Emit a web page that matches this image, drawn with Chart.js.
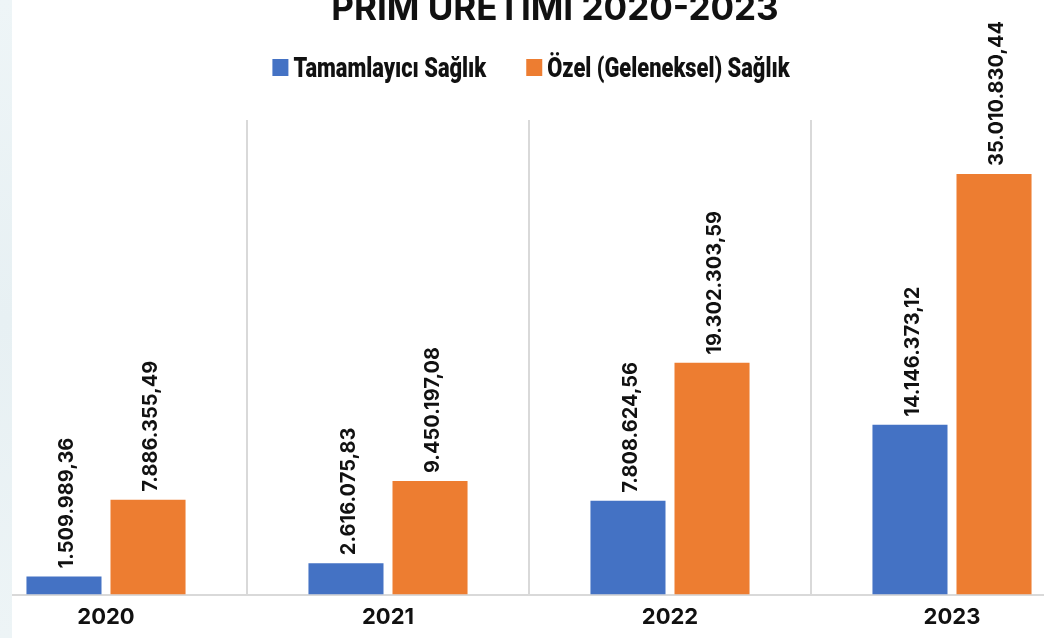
<!DOCTYPE html>
<html>
<head>
<meta charset="utf-8">
<script src="https://cdn.jsdelivr.net/npm/chart.js@4.4.1/dist/chart.umd.min.js"></script>
<style>
  html, body { margin: 0; padding: 0; width: 1044px; height: 638px; overflow: hidden; background: #ffffff; }
  #wrap { position: absolute; left: -60px; top: -40px; width: 1164px; height: 681px; }
  #band { position: absolute; left: 0; top: 0; width: 12px; height: 638px; z-index: 5;
          background: linear-gradient(180deg, #eef5f7 0%, #e7f0f3 50%, #edf4f6 100%); }
</style>
</head>
<body>
<div id="band"></div>
<div id="wrap"><canvas id="c" width="1164" height="681"></canvas></div>
<script>
const chartTitle = 'PRİM ÜRETİMİ 2020-2023';
const years = ['2020', '2021', '2022', '2023'];
const seriesNames = ['Tamamlayıcı Sağlık', 'Özel (Geleneksel) Sağlık'];
const tamamlayici = [1509989.36, 2616075.83, 7808624.56, 14146373.12];
const ozel = [7886355.49, 9450197.08, 19302303.59, 35010830.44];
const seriesColors = ['#4472C4', '#ED7D31'];

function trFormat(v) {
  const parts = v.toFixed(2).split('.');
  return parts[0].replace(/\B(?=(\d{3})+(?!\d))/g, '.') + ',' + parts[1];
}

// Title + legend drawn above the plot area
const headerPlugin = {
  id: 'header',
  afterDraw(chart) {
    const ctx = chart.ctx;
    const area = chart.chartArea;
    const cx = (area.left + area.right) / 2;
    // title
    ctx.save();
    ctx.font = 'bold 35px Inter';
    ctx.fillStyle = '#111111';
    ctx.textAlign = 'center';
    ctx.textBaseline = 'alphabetic';
    ctx.fillText(chartTitle, cx + 26, 60);
    ctx.restore();
    // legend
    const sx = 0.78, box = 16, gapText = 5, gapItem = 40;
    ctx.save();
    ctx.font = '900 28px Roboto';
    const widths = chart.data.datasets.map(ds => ctx.measureText(ds.label).width * sx);
    const total = widths.reduce((a, w) => a + box + gapText + w, 0) + gapItem * (widths.length - 1);
    let x = cx + 2 - total / 2;
    chart.data.datasets.forEach((ds, i) => {
      ctx.fillStyle = ds.backgroundColor;
      ctx.fillRect(x, 99, box, box + 1);
      ctx.save();
      ctx.translate(x + box + gapText, 117);
      ctx.scale(sx, 1);
      ctx.fillStyle = '#111111';
      ctx.textAlign = 'left';
      ctx.textBaseline = 'alphabetic';
      ctx.fillText(ds.label, 0, 0);
      ctx.restore();
      x += box + gapText + widths[i] + gapItem;
    });
    ctx.restore();
  }
};

const valueLabels = {
  id: 'valueLabels',
  afterDatasetsDraw(chart) {
    const ctx = chart.ctx;
    chart.data.datasets.forEach((ds, di) => {
      const meta = chart.getDatasetMeta(di);
      meta.data.forEach((bar, i) => {
        ctx.save();
        ctx.translate(bar.x + 3, bar.y - 8);
        ctx.rotate(-Math.PI / 2);
        ctx.textAlign = 'left';
        ctx.textBaseline = 'middle';
        ctx.font = 'bold 20px Inter';
        ctx.fillStyle = '#111111';
        ctx.fillText(trFormat(ds.data[i]), 0, 0);
        ctx.restore();
      });
    });
  }
};

new Chart(document.getElementById('c'), {
  type: 'bar',
  data: {
    labels: years,
    datasets: [
      { label: seriesNames[0], data: tamamlayici, backgroundColor: seriesColors[0], borderWidth: 0 },
      { label: seriesNames[1], data: ozel, backgroundColor: seriesColors[1], borderWidth: 0 }
    ]
  },
  options: {
    responsive: false,
    animation: false,
    layout: { padding: { left: 25, right: 11, top: 160, bottom: 0 } },
    datasets: { bar: { categoryPercentage: 0.596, barPercentage: 0.893 } },
    plugins: {
      title: { display: false },
      legend: { display: false },
      tooltip: { enabled: false }
    },
    scales: {
      x: {
        offset: true,
        grid: { display: true, offset: true, color: '#d9d9d9', lineWidth: 2, drawTicks: false },
        border: { display: true, color: '#d9d9d9', width: 2 },
        ticks: { color: '#111111', padding: 10, font: { family: 'Inter', size: 22, weight: 'bold' } }
      },
      y: { display: false, min: 0, max: 39500000 }
    }
  },
  plugins: [valueLabels, headerPlugin]
});
</script>
</body>
</html>
